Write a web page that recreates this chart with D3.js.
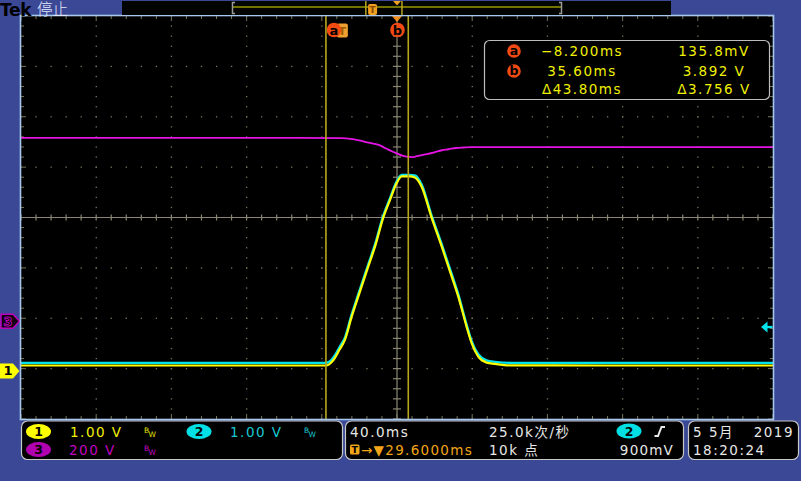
<!DOCTYPE html>
<html><head><meta charset="utf-8">
<script src="https://cdn.jsdelivr.net/npm/d3@7"></script>
<style>
html,body{margin:0;padding:0;background:#3a4896;}
svg{display:block}
text{font-family:"DejaVu Sans","Noto Sans CJK SC",sans-serif;}
</style>
</head><body>
<svg id="scope" width="801" height="481"></svg>
<script>
// ---------------- data ----------------
const timeMs   = [-170.4,-120,-60,-20,-11.4,-8.2,-6.5,-5.0,-3.4,-1.0,1.9,5.5,9.0,14.3,17.9,22.3,25.9,29.4,32.1,36.5,39.1,42.7,48.0,53.4,58.7,62.2,66.6,69.3,72.8,77.3,81.7,90,140,229.6];
const ch1Volts = [0.137,0.137,0.137,0.137,0.137,0.137,0.16,0.21,0.29,0.45,0.645,1.107,1.504,2.099,2.496,3.071,3.423,3.754,3.892,3.892,3.87,3.686,3.071,2.496,1.901,1.504,0.909,0.579,0.313,0.194,0.169,0.14,0.137,0.137];
const ch2Volts = [0.19,0.19,0.19,0.19,0.19,0.19,0.21,0.26,0.34,0.50,0.69,1.15,1.55,2.14,2.54,3.11,3.46,3.79,3.92,3.92,3.91,3.73,3.11,2.54,1.95,1.55,0.95,0.62,0.36,0.24,0.21,0.19,0.19,0.19];
const ch3TimeMs = [-170.4,-100,-40,0.3,5,9.4,14.5,19.8,23.5,27.4,32.8,37.9,41.5,45.5,49.5,53.4,57,61,65,69,100,229.6];
const ch3Volts  = [728,728,728,727,724,718,709,700,687,673,657,652,658,664,671,679,683,688,690,691.5,691.5,691.5];

const cursorTimes   = [-8.2, 35.6];
const cursorNames   = ["a","b"];
const readoutTimes  = ["\u22128.200ms","35.60ms","\u039443.80ms"];
const readoutVolts  = ["135.8mV","3.892 V","\u03943.756 V"];

const timePerDiv = 40;      // ms/div
const delayMs = 29.6;       // horizontal position (trigger -> center)
const recordMs = 400;
const ch1Scale = 1.0, ch2Scale = 1.0, ch3Scale = 200;  // V/div
const ch1Pos = -3.075, ch3Pos = -2.06;                  // divisions
const triggerLevel = 0.9;   // V on ch2

// ---------------- layout ----------------
const svg = d3.select("#scope");
const PL = 21, PR = 773, PT = 16, PB = 419;
const xDiv = d3.scaleLinear().domain([-5,5]).range([PL,PR]);
const yDiv = d3.scaleLinear().domain([-4,4]).range([PB,PT]);
const xT = d3.scaleLinear().domain([delayMs-5*timePerDiv, delayMs+5*timePerDiv]).range([PL,PR]);
const yC1 = v => yDiv(v/ch1Scale + ch1Pos);
const yC2 = v => yDiv(v/ch2Scale + ch1Pos);
const yC3 = v => yDiv(v/ch3Scale + ch3Pos);

const YEL="#ffff00", CYA="#00e3ec", MAG="#e414e4", ORG="#f2a516", CUR="#b8a71c", RED="#f24a12", GRID="#7a765c";

svg.append("rect").attr("width",801).attr("height",481).attr("fill","#3a4896");
svg.append("rect").attr("x",PL).attr("y",PT).attr("width",PR-PL).attr("height",PB-PT).attr("fill","#000");

// ---------------- graticule ----------------
const g = svg.append("g");
for (let k=-4;k<=4;k++){ if(k===0) continue;
  for (let j=-20;j<=20;j++){
    g.append("rect").attr("x",xDiv(k)-0.6).attr("y",yDiv(j/5)-0.6).attr("width",1.3).attr("height",1.3).attr("fill",GRID);
  }
}
for (let k=-3;k<=3;k++){ if(k===0) continue;
  for (let i=-25;i<=25;i++){
    g.append("rect").attr("x",xDiv(i/5)-0.6).attr("y",yDiv(k)-0.6).attr("width",1.3).attr("height",1.3).attr("fill",GRID);
  }
}
// edge ticks
for (let i=-25;i<=25;i++){
  const x=xDiv(i/5), L = (i%5===0)?5:3;
  g.append("line").attr("x1",x).attr("x2",x).attr("y1",PT).attr("y2",PT+L).attr("stroke",GRID).attr("stroke-width",1);
  g.append("line").attr("x1",x).attr("x2",x).attr("y1",PB-L).attr("y2",PB).attr("stroke",GRID).attr("stroke-width",1);
}
for (let j=-20;j<=20;j++){
  const y=yDiv(j/5), L=(j%5===0)?5:3;
  g.append("line").attr("x1",PL).attr("x2",PL+L).attr("y1",y).attr("y2",y).attr("stroke",GRID).attr("stroke-width",1);
  g.append("line").attr("x1",PR-L).attr("x2",PR).attr("y1",y).attr("y2",y).attr("stroke",GRID).attr("stroke-width",1);
}
// center crosshair
const CC="#8a8672";
g.append("line").attr("x1",xDiv(0)).attr("x2",xDiv(0)).attr("y1",PT).attr("y2",PB).attr("stroke",CC).attr("stroke-width",1.2);
g.append("line").attr("x1",PL).attr("x2",PR).attr("y1",yDiv(0)).attr("y2",yDiv(0)).attr("stroke",CC).attr("stroke-width",1.2);
for (let j=-20;j<=20;j++){
  g.append("line").attr("x1",xDiv(0)-4).attr("x2",xDiv(0)+4).attr("y1",yDiv(j/5)).attr("y2",yDiv(j/5)).attr("stroke",CC).attr("stroke-width",1.2);
}
for (let i=-25;i<=25;i++){
  g.append("line").attr("x1",xDiv(i/5)).attr("x2",xDiv(i/5)).attr("y1",yDiv(0)-3).attr("y2",yDiv(0)+3).attr("stroke",CC).attr("stroke-width",1.2);
}

// ---------------- traces ----------------
const lineGen = (ys) => d3.line().x((d,i)=>xT(d)).y((d,i)=>ys(i)).curve(d3.curveMonotoneX);
svg.append("clipPath").attr("id","pc").append("rect").attr("x",PL).attr("y",PT).attr("width",PR-PL).attr("height",PB-PT);
const tr = svg.append("g").attr("clip-path","url(#pc)");
tr.append("path").attr("d", lineGen(i=>yC3(ch3Volts[i]))(ch3TimeMs)).attr("fill","none").attr("stroke",MAG).attr("stroke-width",1.8);
tr.append("path").attr("d", lineGen(i=>yC2(ch2Volts[i]))(timeMs)).attr("fill","none").attr("stroke",CYA).attr("stroke-width",2.4);
tr.append("path").attr("d", lineGen(i=>yC1(ch1Volts[i]))(timeMs)).attr("fill","none").attr("stroke",YEL).attr("stroke-width",2.2);

// ---------------- cursors ----------------
cursorTimes.forEach(t=>{
  svg.append("line").attr("x1",xT(t)).attr("x2",xT(t)).attr("y1",PT).attr("y2",PB).attr("stroke",CUR).attr("stroke-width",1.6);
});
// trigger position marker (T) and expansion point
const xTrig = xT(0);
svg.append("rect").attr("x",xTrig-4.5).attr("y",23.5).attr("width",11).attr("height",14).attr("rx",2).attr("fill","#f0a030");
svg.append("text").attr("x",xTrig+1).attr("y",35).attr("text-anchor","middle").attr("font-size",11).attr("font-weight","bold").attr("fill","#a05a00").text("T");
svg.append("polygon").attr("points",[[xDiv(0)-5,PT],[xDiv(0)+5,PT],[xDiv(0),PT+6]].join(" ")).attr("fill","#f08c1a");
// cursor labels
[[334,30,"a"],[397.5,30,"b"]].forEach(([cx,cy,s])=>{
  svg.append("circle").attr("cx",cx).attr("cy",cy).attr("r",7.3).attr("fill",RED);
  svg.append("text").attr("x",cx).attr("y",cy+4.5).attr("text-anchor","middle").attr("font-size",13).attr("font-weight","bold").attr("fill","#000").text(s);
});

// ---------------- readout ----------------
svg.append("rect").attr("x",484.5).attr("y",40.5).attr("width",285).attr("height",59).attr("rx",5).attr("fill","#000").attr("stroke","#bdbdbd").attr("stroke-width",1.2);
const rowY=[56,76,94];
cursorNames.forEach((s,i)=>{
  svg.append("circle").attr("cx",514).attr("cy",rowY[i]-5).attr("r",6.8).attr("fill",RED);
  svg.append("text").attr("x",514).attr("y",rowY[i]-0.8).attr("text-anchor","middle").attr("font-size",12.5).attr("font-weight","bold").attr("fill","#000").text(s);
});
readoutTimes.forEach((s,i)=>{
  svg.append("text").attr("x",582).attr("y",rowY[i]).attr("text-anchor","middle").attr("font-size",13.5).attr("letter-spacing",1.5).attr("fill","#f0f000").text(s);
});
readoutVolts.forEach((s,i)=>{
  svg.append("text").attr("x",714).attr("y",rowY[i]).attr("text-anchor","middle").attr("font-size",13.5).attr("letter-spacing",1.5).attr("fill","#f0f000").text(s);
});

// ---------------- left / right markers ----------------
const m3 = yC3(0);
svg.append("path").attr("d",`M1,${m3-7} H13 L19.5,${m3} L13,${m3+7} H1 Z`).attr("fill","#120012").attr("stroke","#c000c0").attr("stroke-width",1.5);
svg.append("text").attr("x",8).attr("y",m3+4.5).attr("text-anchor","middle").attr("font-size",13).attr("font-weight","bold").attr("fill","#000").attr("stroke","#c000c0").attr("stroke-width",0.9).text("3");
const m1 = yC1(0)-1.5;
svg.append("path").attr("d",`M0,${m1-7.5} H13 L19.5,${m1} L13,${m1+7.5} H0 Z`).attr("fill",YEL);
svg.append("text").attr("x",8).attr("y",m1+4.5).attr("text-anchor","middle").attr("font-size",13).attr("font-weight","bold").attr("fill","#000").text("1");
const mt = yC2(triggerLevel);
svg.append("polygon").attr("points",[[761,mt],[767.5,mt-5.5],[767.5,mt+5.5]].join(" ")).attr("fill",CYA);
svg.append("rect").attr("x",767).attr("y",mt-1.2).attr("width",5.5).attr("height",2.4).attr("fill",CYA);

// plot border
svg.append("rect").attr("x",PL-0.5).attr("y",PT-0.5).attr("width",PR-PL+1).attr("height",PB-PT+1).attr("fill","none").attr("stroke","#a6c8ee").attr("stroke-width",1.6);

// ---------------- top bar ----------------
svg.append("text").attr("x",0).attr("y",15.5).attr("font-family","Liberation Serif").attr("font-weight","bold").attr("font-size",17).attr("letter-spacing",-0.3).attr("fill","#000").text("Tek");
svg.append("text").attr("x",37).attr("y",14.5).attr("font-family","Noto Sans CJK SC").attr("font-weight",300).attr("font-size",15.5).attr("fill","#e6ebff").text("停止");
svg.append("rect").attr("x",122).attr("y",1).attr("width",549).attr("height",14).attr("fill","#020402");
const xMini = d3.scaleLinear().domain([delayMs-recordMs/2, delayMs+recordMs/2]).range([232,562]);
svg.append("line").attr("x1",xMini.range()[0]+1).attr("x2",xMini.range()[1]-1).attr("y1",7).attr("y2",7).attr("stroke","#e6e000").attr("stroke-width",1.2);
svg.append("path").attr("d","M235,2.5 H232.5 V13.5 H235").attr("fill","none").attr("stroke","#9a9a9a").attr("stroke-width",1.5);
svg.append("path").attr("d","M559,2.5 H561.5 V13.5 H559").attr("fill","none").attr("stroke","#9a9a9a").attr("stroke-width",1.5);
cursorTimes.forEach(t=>{
  svg.append("line").attr("x1",xMini(t)).attr("x2",xMini(t)).attr("y1",1).attr("y2",15).attr("stroke",CUR).attr("stroke-width",1.5);
});
svg.append("rect").attr("x",xMini(0)-4.5).attr("y",4).attr("width",9).attr("height",11).attr("rx",2).attr("fill","#f0a020");
svg.append("text").attr("x",xMini(0)).attr("y",13).attr("text-anchor","middle").attr("font-size",9.5).attr("font-weight","bold").attr("fill","#8a4a00").text("T");
svg.append("polygon").attr("points",[[xMini(delayMs)-4,1],[xMini(delayMs)+4,1],[xMini(delayMs),5.5]].join(" ")).attr("fill","#f0a020");

// ---------------- bottom panels ----------------
const panel=(x,w)=>svg.append("rect").attr("x",x).attr("y",421).attr("width",w).attr("height",38.5).attr("rx",6).attr("fill","#000").attr("stroke","#c8c8c8").attr("stroke-width",1.2);
panel(21.5,321); panel(345.5,338); panel(688.5,110);

const T=(x,y,s,fill,opts={})=>{
  const t=svg.append("text").attr("x",x).attr("y",y).attr("font-size",opts.fs||13.5).attr("letter-spacing",opts.ls!==undefined?opts.ls:1.5).attr("fill",fill).text(s);
  if(opts.anchor) t.attr("text-anchor",opts.anchor);
  if(opts.bold) t.attr("font-weight","bold");
  return t;
};
const badge=(cx,cy,fill,s)=>{
  svg.append("ellipse").attr("cx",cx).attr("cy",cy).attr("rx",12.5).attr("ry",7.5).attr("fill",fill);
  T(cx,cy+4.5,s,"#000",{fs:12.5,ls:0,anchor:"middle",bold:true});
};
const bw=(x,y,fill)=>{ T(x,y,"B",fill,{fs:7.5,ls:0}); T(x+4.5,y+4,"W",fill,{fs:7.5,ls:0}); };

badge(38.5,431.5,"#ffff00","1"); T(70,437,"1.00 V","#f0f000"); bw(144,433,"#e0e000");
badge(199,431.5,"#00e0e4","2"); T(230,437,"1.00 V","#18c8d2"); bw(304,433,"#18c8d2");
badge(38.5,449.5,"#b000b0","3"); T(69,455,"200 V","#c000c0"); bw(144,451,"#c000c0");

const WH="#e8e8e8";
T(350,437,"40.0ms",WH);
T(489,437,"25.0k次/秒",WH);
badge(629,431,"#00e0e4","2");
svg.append("path").attr("d","M654.5,436 H658 L661.5,427 H665").attr("fill","none").attr("stroke",WH).attr("stroke-width",2);
svg.append("rect").attr("x",350).attr("y",444.5).attr("width",9.5).attr("height",10).attr("rx",1.5).attr("fill",ORG);
T(354.8,453,"T","#000",{fs:9.5,ls:0,anchor:"middle",bold:true});
T(361,455,"\u2192\u25BC29.6000ms",ORG,{ls:1.3});
T(489,455,"10k 点",WH);
T(674,455,"900mV",WH,{anchor:"end",ls:1.2});
T(693,437,"5 5月",WH);
T(794,437,"2019",WH,{anchor:"end"});
T(693,455,"18:20:24",WH);
</script>
</body></html>
